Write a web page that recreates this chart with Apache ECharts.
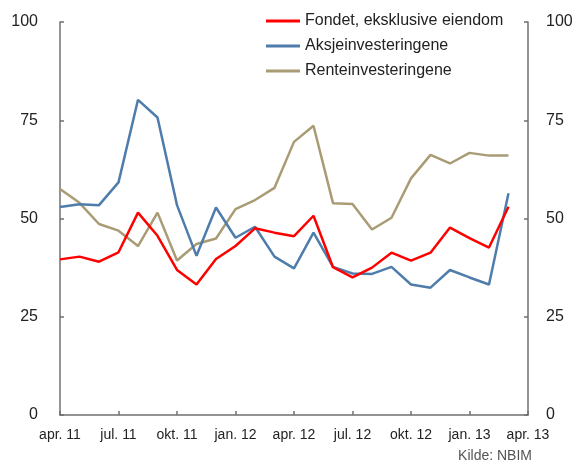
<!DOCTYPE html>
<html>
<head>
<meta charset="utf-8">
<script src="https://cdn.jsdelivr.net/npm/echarts@6/dist/echarts.min.js"></script>
<style>
  html, body { margin: 0; padding: 0; background: #fff; }
  #chart { width: 577px; height: 462px; }
</style>
</head>
<body>
<div id="chart"></div>
<script>
const months = [
  "apr. 11", "mai. 11", "jun. 11", "jul. 11", "aug. 11", "sep. 11",
  "okt. 11", "nov. 11", "des. 11", "jan. 12", "feb. 12", "mar. 12",
  "apr. 12", "mai. 12", "jun. 12", "jul. 12", "aug. 12", "sep. 12",
  "okt. 12", "nov. 12", "des. 12", "jan. 13", "feb. 13", "mar. 13",
  "apr. 13"
];

const fondet = [39.6, 40.3, 39.0, 41.4, 51.5, 45.6, 36.9, 33.2, 39.7, 43.0, 47.5, 46.4,
  45.5, 50.7, 37.6, 35.0, 37.5, 41.3, 39.3, 41.3, 47.7, 45.0, 42.6, 53.0];
const aksjer = [52.9, 53.6, 53.4, 59.2, 80.2, 75.7, 53.4, 40.5, 52.8, 45.1, 47.9, 40.3,
  37.3, 46.4, 37.7, 36.0, 35.9, 37.7, 33.2, 32.4, 36.9, 35.0, 33.2, 56.4];
const renter = [57.5, 54.0, 48.6, 46.9, 43.0, 51.5, 39.3, 43.5, 44.9, 52.4, 54.7, 57.8,
  69.5, 73.6, 53.9, 53.7, 47.2, 50.2, 60.2, 66.2, 64.0, 66.7, 66.0, 66.0];

const names = ["Fondet, eksklusive eiendom", "Aksjeinvesteringene", "Renteinvesteringene"];
const colors = ["#ff0000", "#4e7dab", "#a99c75"];
const font = "'Liberation Sans', Arial, sans-serif";

const chart = echarts.init(document.getElementById("chart"));

const yAxisBase = {
  type: "value",
  min: 0,
  max: 100,
  interval: 25,
  splitLine: { show: false },
  axisLine: { show: true, lineStyle: { color: "#707070", width: 1.5 } },
  axisTick: { show: true, inside: true, length: 4, lineStyle: { color: "#707070", width: 1.5 } },
  axisLabel: { color: "#222", fontSize: 16, fontFamily: font }
};

const option = {
  animation: false,
  color: colors,
  grid: { left: 60, right: 49, top: 22, bottom: 47 },
  legend: {
    orient: "vertical",
    left: 266,
    top: 13,
    padding: 0,
    itemWidth: 34,
    itemHeight: 3,
    itemGap: 9,
    icon: "rect",
    textStyle: { color: "#222", fontSize: 16, fontFamily: font, lineHeight: 16 },
    data: names
  },
  xAxis: {
    type: "category",
    data: months,
    boundaryGap: false,
    axisLine: { lineStyle: { color: "#707070", width: 1.5 } },
    axisTick: { inside: true, length: 4, interval: 2, lineStyle: { color: "#707070", width: 1.5 } },
    axisLabel: { interval: 2, color: "#222", fontSize: 14, fontFamily: font, margin: 13 }
  },
  yAxis: [
    Object.assign({}, yAxisBase, { position: "left", axisLabel: Object.assign({}, yAxisBase.axisLabel, { margin: 22 }) }),
    Object.assign({}, yAxisBase, { position: "right", axisLabel: Object.assign({}, yAxisBase.axisLabel, { margin: 18 }) })
  ],
  series: [
    { name: names[0], type: "line", data: fondet, showSymbol: false, lineStyle: { width: 2.5 }, z: 4 },
    { name: names[1], type: "line", data: aksjer, showSymbol: false, lineStyle: { width: 2.5 }, z: 3 },
    { name: names[2], type: "line", data: renter, showSymbol: false, lineStyle: { width: 2.5 }, z: 2 }
  ],
  graphic: [
    {
      type: "text",
      right: 45,
      top: 449,
      style: { text: "Kilde: NBIM", fill: "#555", fontSize: 14, fontFamily: font }
    }
  ]
};

chart.setOption(option);
</script>
</body>
</html>
